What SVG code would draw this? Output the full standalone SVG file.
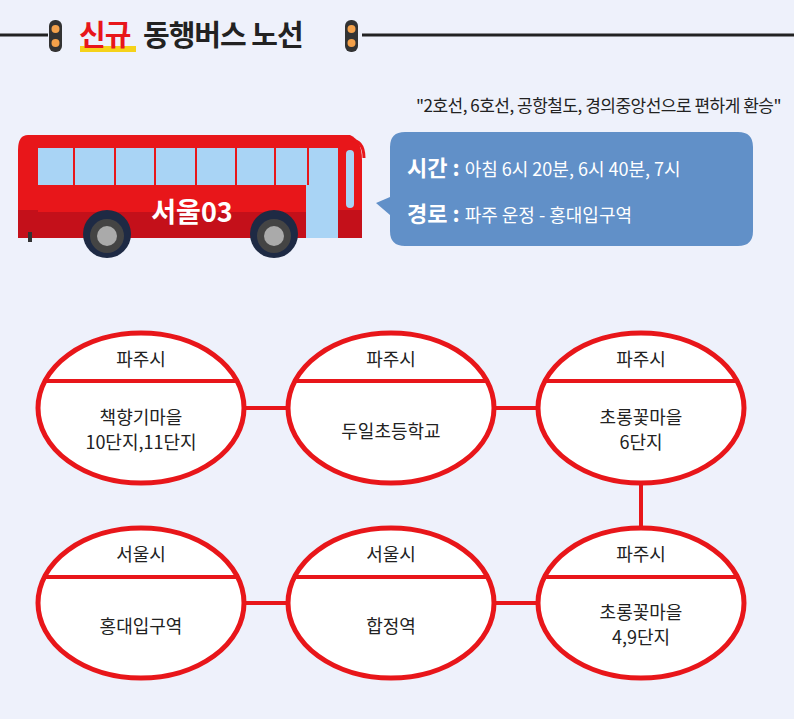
<svg xmlns="http://www.w3.org/2000/svg" width="794" height="719" viewBox="0 0 794 719">
<style>
text{font-family:"Noto Sans CJK KR","Noto Sans",sans-serif}
.el{fill:#fff;stroke:#e8161a;stroke-width:5}
.dv{stroke:#e8161a;stroke-width:4}
.cn{stroke:#e8161a;stroke-width:4;fill:none}
.t{font-size:18px;fill:#222;text-anchor:middle}
</style>
<rect width="794" height="719" fill="#eef1fb"/>
<g id="title">
<line x1="0" y1="35" x2="48" y2="35" stroke="#222" stroke-width="3"/>
<line x1="362" y1="35" x2="794" y2="35" stroke="#222" stroke-width="3"/>
<rect x="49" y="20" width="13" height="32" rx="6" fill="#333"/>
<circle cx="55.5" cy="29" r="4" fill="#f4a14a"/><circle cx="55.5" cy="43" r="4" fill="#f4a14a"/>
<rect x="345" y="20" width="13" height="32" rx="6" fill="#333"/>
<circle cx="351.5" cy="29" r="4" fill="#f4a14a"/><circle cx="351.5" cy="43" r="4" fill="#f4a14a"/>
<rect x="80" y="46" width="56" height="6" fill="#f5d21a"/>
<text x="79" y="46" font-size="29" font-weight="bold" fill="#e8161a" letter-spacing="-1">신규</text>
<text x="143" y="46" font-size="29" font-weight="bold" fill="#222" letter-spacing="-1">동행버스 노선</text>
</g>
<g id="bus">
<path d="M28 135 H350 Q362 140 362 160 V228 Q362 238 350 238 H24 Q18 238 18 228 V150 Q18 135 28 135 Z" fill="#e8161a"/>
<rect x="18" y="210" width="344" height="28" fill="#c4101a"/>
<rect x="38" y="148" width="300" height="64" fill="#a9d4f5"/>
<g stroke="#e8161a" stroke-width="2"><line x1="74" y1="148" x2="74" y2="212"/><line x1="115" y1="148" x2="115" y2="212"/><line x1="155" y1="148" x2="155" y2="212"/><line x1="196" y1="148" x2="196" y2="212"/><line x1="236" y1="148" x2="236" y2="212"/><line x1="275" y1="148" x2="275" y2="212"/><line x1="308" y1="148" x2="308" y2="212"/></g>
<rect x="38" y="185" width="268" height="27" fill="#e8161a"/>
<rect x="306" y="185" width="32" height="53" fill="#a9d4f5"/>
<rect x="346" y="150" width="8" height="58" rx="4" fill="#a9d4f5"/>
<path d="M350 140 Q364 140 364 158" stroke="#e8161a" stroke-width="3" fill="none"/>
<rect x="28" y="232" width="4" height="10" fill="#333"/>
<circle cx="107" cy="234" r="24" fill="#1e2a44"/><circle cx="107" cy="236" r="17" fill="#444"/><circle cx="107" cy="236" r="10" fill="#aaa"/>
<circle cx="274" cy="234" r="24" fill="#1e2a44"/><circle cx="274" cy="236" r="17" fill="#444"/><circle cx="274" cy="236" r="10" fill="#aaa"/>
<text x="192" y="222" font-size="27" font-weight="bold" fill="#fff" text-anchor="middle">서울03</text>
</g>
<g id="info">
<text x="781" y="112" font-size="17" fill="#222" text-anchor="end" letter-spacing="-0.5">"2호선, 6호선, 공항철도, 경의중앙선으로 편하게 환승"</text>
<path d="M405 132 H738 Q753 132 753 147 V231 Q753 246 738 246 H405 Q390 246 390 231 V215 L376 203 L390 197 V147 Q390 132 405 132 Z" fill="#6190c8"/>
<text x="407" y="176" fill="#fff"><tspan font-size="22" font-weight="bold">시간 : </tspan><tspan font-size="18">아침 6시 20분, 6시 40분, 7시</tspan></text>
<text x="407" y="222" fill="#fff"><tspan font-size="22" font-weight="bold">경로 : </tspan><tspan font-size="18">파주 운정 -  홍대입구역</tspan></text>
</g>
<g id="connectors">
<line class="cn" x1="244" y1="408" x2="290" y2="408"/>
<line class="cn" x1="494" y1="408" x2="540" y2="408"/>
<line class="cn" x1="641" y1="483" x2="641" y2="527"/>
<line class="cn" x1="244" y1="603" x2="290" y2="603"/>
<line class="cn" x1="494" y1="603" x2="540" y2="603"/>
</g>
<g id="n1"><ellipse class="el" cx="141" cy="408" rx="103" ry="75"/><line class="dv" x1="45" y1="381" x2="237" y2="381"/><text class="t" x="141" y="366">파주시</text><text class="t" x="141" y="424">책향기마을</text><text class="t" x="141" y="449">10단지,11단지</text></g>
<g id="n2"><ellipse class="el" cx="391" cy="408" rx="103" ry="75"/><line class="dv" x1="295" y1="381" x2="487" y2="381"/><text class="t" x="391" y="366">파주시</text><text class="t" x="391" y="438">두일초등학교</text></g>
<g id="n3"><ellipse class="el" cx="641" cy="408" rx="103" ry="75"/><line class="dv" x1="545" y1="381" x2="737" y2="381"/><text class="t" x="641" y="366">파주시</text><text class="t" x="641" y="424">초롱꽃마을</text><text class="t" x="641" y="449">6단지</text></g>
<g id="n4"><ellipse class="el" cx="141" cy="603" rx="103" ry="75"/><line class="dv" x1="45" y1="577" x2="237" y2="577"/><text class="t" x="141" y="561">서울시</text><text class="t" x="141" y="633">홍대입구역</text></g>
<g id="n5"><ellipse class="el" cx="391" cy="603" rx="103" ry="75"/><line class="dv" x1="295" y1="577" x2="487" y2="577"/><text class="t" x="391" y="561">서울시</text><text class="t" x="391" y="633">합정역</text></g>
<g id="n6"><ellipse class="el" cx="641" cy="603" rx="103" ry="75"/><line class="dv" x1="545" y1="577" x2="737" y2="577"/><text class="t" x="641" y="561">파주시</text><text class="t" x="641" y="619">초롱꽃마을</text><text class="t" x="641" y="644">4,9단지</text></g>
</svg>
